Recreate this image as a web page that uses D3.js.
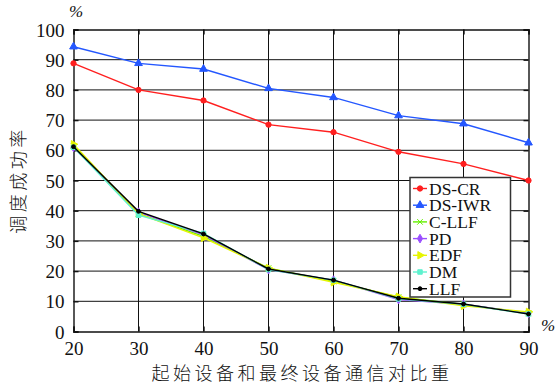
<!DOCTYPE html>
<html>
<head>
<meta charset="utf-8">
<script src="https://cdn.jsdelivr.net/npm/d3@7"></script>
<style>
  html, body { margin: 0; padding: 0; background: #fff; }
  svg { display: block; }
  .serif { font-family: "Liberation Serif", "DejaVu Serif", serif; }
  .cjk { font-family: "Noto Sans CJK SC", sans-serif; font-weight: 300; }
</style>
</head>
<body>
<svg id="chart" width="559" height="387"></svg>
<script>
// Ratio of start-to-end device communication (%)
const ratios = [20, 30, 40, 50, 60, 70, 80, 90];
const yTicks = [0, 10, 20, 30, 40, 50, 60, 70, 80, 90, 100];

// Scheduling success rate (%) per algorithm
const dsCR  = [88.8, 80.0, 76.5, 68.5, 66.0, 59.5, 55.5, 50.0];
const dsIWR = [94.3, 88.8, 86.9, 80.5, 77.5, 71.5, 68.8, 62.5];
const cLLF  = [61.5, 39.0, 31.5, 21.0, 16.6, 11.4, 9.0, 6.0];
const pd    = [61.0, 39.5, 32.0, 20.5, 17.0, 10.6, 9.0, 6.0];
const edf   = [62.0, 39.0, 31.0, 21.0, 16.3, 11.5, 8.5, 6.5];
const dm    = [61.0, 38.5, 32.5, 20.5, 17.0, 10.8, 9.0, 5.8];
const llf   = [61.2, 39.8, 32.3, 20.7, 17.0, 11.0, 9.1, 5.8];

const seriesNames = ["DS-CR", "DS-IWR", "C-LLF", "PD", "EDF", "DM", "LLF"];
const seriesValues = [dsCR, dsIWR, cLLF, pd, edf, dm, llf];
const seriesColors = ["#ff1f1f", "#2457ff", "#66f000", "#9a4dff", "#e6f500", "#5ef2cf", "#000000"];
const seriesMarkers = ["circle", "triangle", "cross", "diamond", "triRight", "square", "dot"];

const svg = d3.select("#chart");
const plot = { left: 73.5, right: 528.5, top: 29.5, bottom: 331.5 };

const x = d3.scaleLinear().domain([20, 90]).range([plot.left, plot.right]);
const y = d3.scaleLinear().domain([0, 100]).range([plot.bottom, plot.top]);

// Grid lines
const grid = svg.append("g");
grid.selectAll("line.v").data(ratios.slice(1, -1)).join("line")
  .attr("x1", d => x(d)).attr("x2", d => x(d))
  .attr("y1", plot.top).attr("y2", plot.bottom)
  .attr("stroke", "#111").attr("stroke-width", 1);
grid.selectAll("line.h").data(yTicks.slice(1, -1)).join("line")
  .attr("x1", plot.left).attr("x2", plot.right)
  .attr("y1", d => y(d)).attr("y2", d => y(d))
  .attr("stroke", "#111").attr("stroke-width", 1);

// Axes with ticks pointing inward
const xAxis = svg.append("g").attr("transform", `translate(0,${plot.bottom})`)
  .call(d3.axisBottom(x).tickValues(ratios).tickSize(-5).tickPadding(9).tickFormat(d3.format("d")));
const yAxis = svg.append("g").attr("transform", `translate(${plot.left},0)`)
  .call(d3.axisLeft(y).tickValues(yTicks).tickSize(-5).tickPadding(9).tickFormat(d3.format("d")));
const xTop = svg.append("g").attr("transform", `translate(0,${plot.top})`)
  .call(d3.axisTop(x).tickValues(ratios).tickSize(-5).tickFormat(""));
const yRight = svg.append("g").attr("transform", `translate(${plot.right},0)`)
  .call(d3.axisRight(y).tickValues(yTicks).tickSize(-5).tickFormat(""));

[xAxis, yAxis, xTop, yRight].forEach(g => {
  g.select(".domain").attr("stroke", "#111").attr("stroke-width", 1.4);
  g.selectAll(".tick line").attr("stroke", "#111").attr("stroke-width", 1.4);
  g.selectAll("text").attr("class", "serif").attr("font-size", 19).attr("fill", "#111");
});
xAxis.selectAll("text").attr("dy", "0.75em");
yAxis.selectAll("text").attr("dy", "0.35em");

// Marker shapes
const markerPath = {
  circle: d3.symbol(d3.symbolCircle, 22)(),
  triangle: d3.symbol(d3.symbolTriangle, 26)(),
  cross: d3.symbol(d3.symbolX, 22)(),
  diamond: d3.symbol(d3.symbolDiamond, 22)(),
  triRight: d3.symbol(d3.symbolTriangle, 24)(),
  square: d3.symbol(d3.symbolSquare, 20)(),
  dot: d3.symbol(d3.symbolCircle, 12)()
};

function drawMarker(g, kind, color, cx, cy) {
  return g.append("path")
    .attr("d", markerPath[kind])
    .attr("fill", color).attr("stroke", color).attr("stroke-width", 1)
    .attr("transform", `translate(${cx},${cy})` + (kind === "triRight" ? " rotate(90)" : ""));
}

// Series lines and markers
const line = d3.line().x((d, i) => x(ratios[i])).y(d => y(d));
seriesValues.forEach((vals, k) => {
  const g = svg.append("g");
  g.append("path").datum(vals).attr("d", line)
    .attr("fill", "none").attr("stroke", seriesColors[k]).attr("stroke-width", 1.4);
  vals.forEach((v, i) => drawMarker(g, seriesMarkers[k], seriesColors[k], x(ratios[i]), y(v)));
});

// Legend
const lg = svg.append("g").attr("transform", "translate(410,177.5)");
lg.append("rect").attr("width", 100.5).attr("height", 119.5)
  .attr("fill", "#fff").attr("stroke", "#333").attr("stroke-width", 1.5);
seriesNames.forEach((name, k) => {
  const cy = 11 + k * 16.7;
  lg.append("line").attr("x1", 3).attr("x2", 17).attr("y1", cy).attr("y2", cy)
    .attr("stroke", seriesColors[k]).attr("stroke-width", 1.4);
  drawMarker(lg, seriesMarkers[k], seriesColors[k], 10, cy);
  lg.append("text").attr("class", "serif").attr("x", 19).attr("y", cy + 6)
    .attr("font-size", 17.5).attr("fill", "#111").text(name);
});

// Unit labels
svg.append("text").attr("class", "serif").attr("x", 69).attr("y", 17)
  .attr("font-size", 17).attr("font-style", "italic").attr("fill", "#111").text("%");
svg.append("text").attr("class", "serif").attr("x", 541).attr("y", 331)
  .attr("font-size", 17).attr("font-style", "italic").attr("fill", "#111").text("%");

// Axis titles
svg.append("text").attr("class", "cjk").attr("x", 302).attr("y", 380)
  .attr("text-anchor", "middle").attr("font-size", 18).attr("letter-spacing", 3.5)
  .attr("fill", "#111").text("起始设备和最终设备通信对比重");
svg.append("text").attr("class", "cjk")
  .attr("transform", "translate(25,180) rotate(-90)")
  .attr("text-anchor", "middle").attr("font-size", 18).attr("letter-spacing", 3.5)
  .attr("fill", "#111").text("调度成功率");
</script>
</body>
</html>
